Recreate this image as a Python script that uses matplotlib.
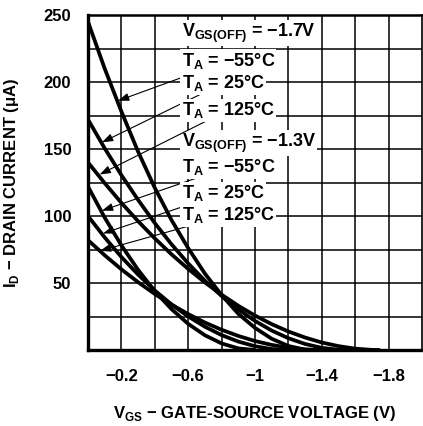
import numpy as np
import matplotlib
matplotlib.use("Agg")
import matplotlib.pyplot as plt

plt.rcParams['font.family'] = ['Liberation Sans', 'DejaVu Sans']
plt.rcParams['mathtext.fontset'] = 'custom'
plt.rcParams['mathtext.rm'] = 'Liberation Sans:bold'
plt.rcParams['mathtext.bf'] = 'Liberation Sans:bold'

# V_GS(OFF) = -1.7 V group
vgs_hi_cold = [0.0, -0.1, -0.2, -0.3, -0.4, -0.5, -0.6, -0.7, -0.8, -0.9, -1.0, -1.1, -1.2, -1.3, -1.35]
id_hi_cold = [245, 210, 178, 148, 121, 97, 76, 57, 41, 27, 16.5, 8.4, 3.0, 0.3, 0]
vgs_hi_room = [0.0, -0.1, -0.2, -0.3, -0.4, -0.5, -0.6, -0.7, -0.8, -0.9, -1.0, -1.1, -1.2, -1.3, -1.4, -1.5, -1.55]
id_hi_room = [172, 150.5, 130.5, 112, 94.7, 78.9, 64.6, 51.7, 40.3, 30.3, 21.7, 14.5, 8.8, 4.5, 1.6, 0.2, 0]
vgs_hi_hot = [0.0, -0.1, -0.2, -0.3, -0.4, -0.5, -0.6, -0.7, -0.8, -0.9, -1.0, -1.1, -1.2, -1.3, -1.4, -1.5, -1.6, -1.7, -1.75]
id_hi_hot = [140, 124.5, 109.8, 96.1, 83.3, 71.4, 60.5, 50.4, 41.3, 33.0, 25.7, 19.3, 13.8, 9.3, 5.6, 2.9, 1.0, 0.1, 0]

# V_GS(OFF) = -1.3 V group
vgs_lo_cold = [0.0, -0.1, -0.2, -0.3, -0.4, -0.5, -0.6, -0.7, -0.8, -0.9, -1.0]
id_lo_cold = [122, 98.8, 78.1, 59.8, 43.9, 30.5, 19.5, 11.0, 4.9, 1.2, 0]
vgs_lo_room = [0.0, -0.1, -0.2, -0.3, -0.4, -0.5, -0.6, -0.7, -0.8, -0.9, -1.0, -1.1, -1.2]
id_lo_room = [100, 84, 69.4, 56.3, 44.4, 34.0, 25, 17.4, 11.1, 6.3, 2.8, 0.7, 0]
vgs_lo_hot = [0.0, -0.1, -0.2, -0.3, -0.4, -0.5, -0.6, -0.7, -0.8, -0.9, -1.0, -1.1, -1.2, -1.3, -1.4]
id_lo_hot = [82, 70.7, 60.2, 50.6, 41.8, 33.9, 26.8, 20.5, 15.1, 10.5, 6.7, 3.8, 1.7, 0.4, 0]

x_labels = ["\u22120.2", "\u22120.6", "\u22121", "\u22121.4", "\u22121.8"]
y_labels = ["50", "100", "150", "200", "250"]

fig = plt.figure(figsize=(4.23, 4.26), dpi=100)
ax = fig.add_axes([88 / 423, 76 / 426, 334 / 423, 335 / 426])

curves = [(vgs_hi_cold, id_hi_cold), (vgs_hi_room, id_hi_room), (vgs_hi_hot, id_hi_hot),
          (vgs_lo_cold, id_lo_cold), (vgs_lo_room, id_lo_room), (vgs_lo_hot, id_lo_hot)]
for v, i in curves:
    ax.plot(v, i, color='black', lw=2.7, solid_capstyle='butt', zorder=2)

ax.set_xlim(0, -2.0)
ax.set_ylim(0, 250)

ax.set_xticks([-0.2, -0.6, -1.0, -1.4, -1.8])
ax.set_xticklabels(x_labels)
ax.set_xticks(np.arange(-0.4, -2.0, -0.4), minor=True)
ax.set_yticks([50, 100, 150, 200, 250])
ax.set_yticklabels(y_labels)
ax.set_yticks([25, 75, 125, 175, 225], minor=True)
ax.grid(True, which='both', color='black', lw=1.1, zorder=0)
ax.set_axisbelow(True)
ax.tick_params(which='both', length=0)
ax.tick_params(axis='x', pad=14, labelsize=12)
ax.tick_params(axis='y', pad=12, labelsize=12)
for lab in ax.get_xticklabels() + ax.get_yticklabels():
    lab.set_fontweight('bold')

for side, w in [('left', 2.4), ('bottom', 2.4), ('top', 1.8), ('right', 1.2)]:
    ax.spines[side].set_linewidth(w)

ax.set_xlabel("V$_{\\rm GS}$ \u2212 GATE-SOURCE VOLTAGE (V)", fontsize=12,
              fontweight='bold', labelpad=14, family=['Liberation Sans Narrow', 'Liberation Sans'])
ax.set_ylabel("I$_{\\rm D}$ \u2212 DRAIN CURRENT (\u03bcA)", fontsize=12,
              fontweight='bold', labelpad=16, family=['Liberation Sans Narrow', 'Liberation Sans'])

box = dict(fc='white', ec='none', pad=1.0)
tx = -0.56
ax.text(tx, 236.5, "V$_{\\rm GS(OFF)}$ = \u22121.7V", fontsize=13, fontweight='bold',
        va='center', ha='left', bbox=box, zorder=3)
ax.text(tx, 154.4, "V$_{\\rm GS(OFF)}$ = \u22121.3V", fontsize=13, fontweight='bold',
        va='center', ha='left', bbox=box, zorder=3)

notes = [("T$_{\\rm A}$ = \u221255\u00b0C", 216, (-0.18, 186)),
         ("T$_{\\rm A}$ = 25\u00b0C", 199, (-0.084, 155)),
         ("T$_{\\rm A}$ = 125\u00b0C", 179, (-0.07, 131)),
         ("T$_{\\rm A}$ = \u221255\u00b0C", 136.5, (-0.084, 104)),
         ("T$_{\\rm A}$ = 25\u00b0C", 117, (-0.09, 87)),
         ("T$_{\\rm A}$ = 125\u00b0C", 100.7, (-0.072, 74))]
for txt, ty, tip in notes:
    ax.annotate(txt, xy=tip, xytext=(tx, ty), fontsize=13, fontweight='bold',
                va='center', ha='left', bbox=box, zorder=3,
                arrowprops=dict(arrowstyle='-|>,head_length=0.5,head_width=0.18',
                                color='black', lw=0.8, shrinkA=0, shrinkB=0))

fig.savefig("out.png", dpi=100)
